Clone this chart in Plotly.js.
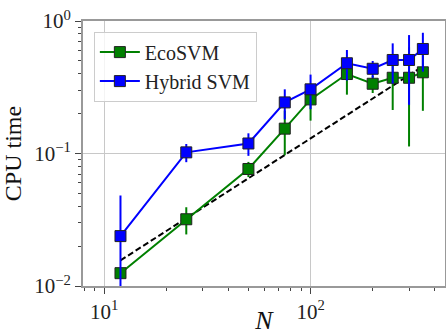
<!DOCTYPE html>
<html>
<head>
<meta charset="utf-8">
<script src="https://cdn.plot.ly/plotly-3.0.1.min.js"></script>
<style>html,body{margin:0;padding:0;background:#fff;}#chart{width:446px;height:335px;}</style>
</head>
<body>
<div id="chart"></div>
<script>
const N = [12, 25, 50, 75, 100, 150, 200, 250, 300, 350];
const ecoTime = [0.0125, 0.0319, 0.0764, 0.154, 0.256, 0.398, 0.336, 0.373, 0.373, 0.410];
const ecoErr = [0.001, 0.0074, 0.01, 0.057, 0.079, 0.12, 0.05, 0.16, 0.26, 0.2];
const hybTime = [0.0238, 0.102, 0.119, 0.243, 0.305, 0.480, 0.436, 0.508, 0.508, 0.615];
const hybErr = [0.0245, 0.016, 0.023, 0.062, 0.089, 0.124, 0.063, 0.17, 0.275, 0.2];
const refN = [12, 350];
const refSlope = 0.0013;
const refTime = refN.map(n => refSlope * n);
const seriesNames = ["EcoSVM", "Hybrid SVM"];
const yTickVals = [0.01, 0.1, 1];
const yTickText = ["10<sup>−2</sup>", "10<sup>−1</sup>", "10<sup>0</sup>"];
const xTickVals = [10, 100];
const xTickText = ["10<sup>1</sup>", "10<sup>2</sup>"];

function minors(lo, hi) {
  const out = [];
  for (let d = lo; d < hi; d++) {
    for (let k = 2; k <= 9; k++) out.push(k * Math.pow(10, d));
  }
  return out;
}

const font = "'Liberation Serif', serif";
const traces = [
  {
    x: refN, y: refTime, mode: "lines", showlegend: false,
    line: {color: "black", width: 2, dash: "6px,3px"}, hoverinfo: "skip"
  },
  {
    x: N, y: ecoTime, name: seriesNames[0], mode: "lines+markers",
    line: {color: "#008000", width: 2},
    marker: {symbol: "square", size: 11, color: "#008000", line: {color: "#222", width: 1}},
    error_y: {type: "data", array: ecoErr, visible: true, color: "#008000", thickness: 2, width: 0}
  },
  {
    x: N, y: hybTime, name: seriesNames[1], mode: "lines+markers",
    line: {color: "#0000ff", width: 2},
    marker: {symbol: "square", size: 11, color: "#0000ff", line: {color: "#222", width: 1}},
    error_y: {type: "data", array: hybErr, visible: true, color: "#0000ff", thickness: 2, width: 0}
  }
];

const layout = {
  width: 446, height: 335,
  margin: {l: 83, r: 1, t: 21, b: 49},
  paper_bgcolor: "#fff", plot_bgcolor: "#fff",
  font: {family: font, color: "#111", size: 20},
  showlegend: true,
  legend: {
    x: 0.03, y: 0.96, xanchor: "left", yanchor: "top",
    bgcolor: "rgba(255,255,255,0.8)", bordercolor: "#ccc", borderwidth: 1,
    font: {family: font, size: 20, color: "#222"},
    traceorder: "normal", itemwidth: 40
  },
  xaxis: {
    type: "log", range: [Math.log10(7.9), Math.log10(448)],
    tickmode: "array", tickvals: xTickVals, ticktext: xTickText,
    ticks: "outside", ticklen: 6, tickcolor: "#444",
    showgrid: true, gridcolor: "#c8c8c8", gridwidth: 1,
    showline: true, linecolor: "#999", linewidth: 2, mirror: true,
    zeroline: false,
    minor: {tickmode: "array", tickvals: minors(0, 3), ticks: "outside", ticklen: 3, tickcolor: "#444", showgrid: false},
    tickfont: {family: font, size: 21, color: "#222"},
    title: {text: "<i>N</i>", font: {family: font, size: 26, color: "#111"}, standoff: 2}
  },
  yaxis: {
    type: "log", range: [-2, 0],
    tickmode: "array", tickvals: yTickVals, ticktext: yTickText,
    ticks: "outside", ticklen: 6, tickcolor: "#444",
    showgrid: true, gridcolor: "#c8c8c8", gridwidth: 1,
    showline: true, linecolor: "#999", linewidth: 2, mirror: true,
    zeroline: false,
    minor: {tickmode: "array", tickvals: minors(-2, 0), ticks: "outside", ticklen: 3, tickcolor: "#444", showgrid: false},
    tickfont: {family: font, size: 21, color: "#222"},
    title: {text: "CPU time", font: {family: font, size: 24, color: "#111"}, standoff: 8}
  }
};

Plotly.newPlot("chart", traces, layout, {displayModeBar: false, staticPlot: true});
</script>
</body>
</html>
